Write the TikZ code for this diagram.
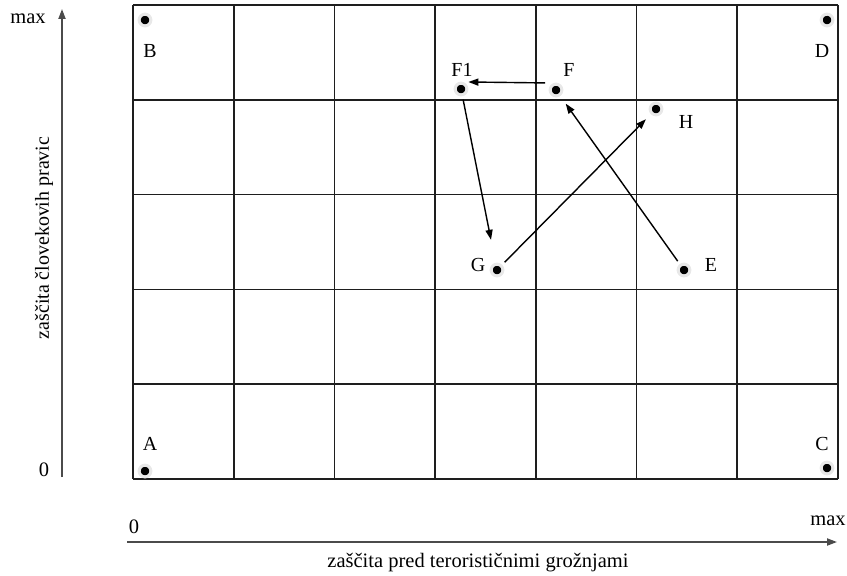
\documentclass[tikz,border=0pt]{standalone}
\usepackage{fontspec}
\setmainfont{Liberation Serif}
\usetikzlibrary{arrows.meta, positioning}
\definecolor{gridline}{RGB}{30,30,30}
\definecolor{halo}{RGB}{232,232,232}

\begin{document}
\begin{tikzpicture}[
    x=0.03cm, y=-0.03cm,
    >={Triangle[length=8.5pt, width=6pt]},
    %% ── node styles ──────────────────────────────────────────────────────────
    pointdot/.style={
        circle, fill=black, draw=halo, line width=2.6pt,
        inner sep=0pt, minimum size=10pt
    },
    pointlabel/.style={
        inner sep=0pt, font=\fontsize{17}{20}\selectfont
    },
    axislabel/.style={
        inner sep=0pt, font=\fontsize{17.5}{20}\selectfont
    },
    %% ── edge styles ──────────────────────────────────────────────────────────
    move/.style={
        ->, draw=black, line width=1.2pt, shorten <=3pt
    },
    axis/.style={
        ->, draw=gridline!80, line width=1.5pt
    },
]
\useasboundingbox (0,0) rectangle (847,575);

%% ── Grid (7 columns, 5 rows) ────────────────────────────────────────────────
\foreach \i in {0,...,7}
  \draw[gridline, line width=1.5pt] ({133+\i*100.7},5) -- ({133+\i*100.7},479);
\foreach \j in {0,...,5}
  \draw[gridline, line width=1.5pt] (133,{5+\j*94.8}) -- (838,{5+\j*94.8});

%% ── Axes ────────────────────────────────────────────────────────────────────
\coordinate (ybot) at (62,477);
\coordinate (ytop) at (62,9);
\coordinate (xleft) at (127,542);
\coordinate (xright) at (837,542);
\draw[axis] (ybot) -- (ytop);
\draw[axis] (xleft) -- (xright);

\node[axislabel] (ymax) at (28,19) {max};
\node[axislabel] (yzero) at (44,470) {0};
\node[axislabel] (xzero) at (134,527) {0};
\node[axislabel] (xmax) at (828,521) {max};
\node[axislabel, font=\fontsize{17}{20}\selectfont, rotate=90] (ytitle)
    at (44,238) {zaščita človekovih pravic};
\node[axislabel] (xtitle) at (478,563) {zaščita pred terorističnimi grožnjami};

%% ── Points ──────────────────────────────────────────────────────────────────
\node[pointdot] (A)  at (145,471) {};
\node[pointdot] (B)  at (145,20)  {};
\node[pointdot] (C)  at (827,468) {};
\node[pointdot] (D)  at (827,20)  {};
\node[pointdot] (F1) at (461,89)  {};
\node[pointdot] (F)  at (556,90)  {};
\node[pointdot] (H)  at (656,109) {};
\node[pointdot] (G)  at (497,270) {};
\node[pointdot] (E)  at (684,270) {};

\node[pointlabel] (labA)  at (150,444) {A};
\node[pointlabel] (labB)  at (150,51)  {B};
\node[pointlabel] (labC)  at (822,444) {C};
\node[pointlabel] (labD)  at (822,51)  {D};
\node[pointlabel] (labF1) at (462,70)  {F1};
\node[pointlabel] (labF)  at (569,70)  {F};
\node[pointlabel] (labH)  at (686,122) {H};
\node[pointlabel] (labG)  at (478,265) {G};
\node[pointlabel] (labE)  at (711,265) {E};

%% ── Moves ───────────────────────────────────────────────────────────────────
\draw[move] ([yshift=6pt]F.west) -- ([yshift=6pt]F1.east);
\draw[move, shorten >=20pt] (F1) -- (G);
\draw[move, shorten >=6pt] (G) -- (H);
\draw[move, shorten >=8pt] (E) -- (F);

\end{tikzpicture}
\end{document}
